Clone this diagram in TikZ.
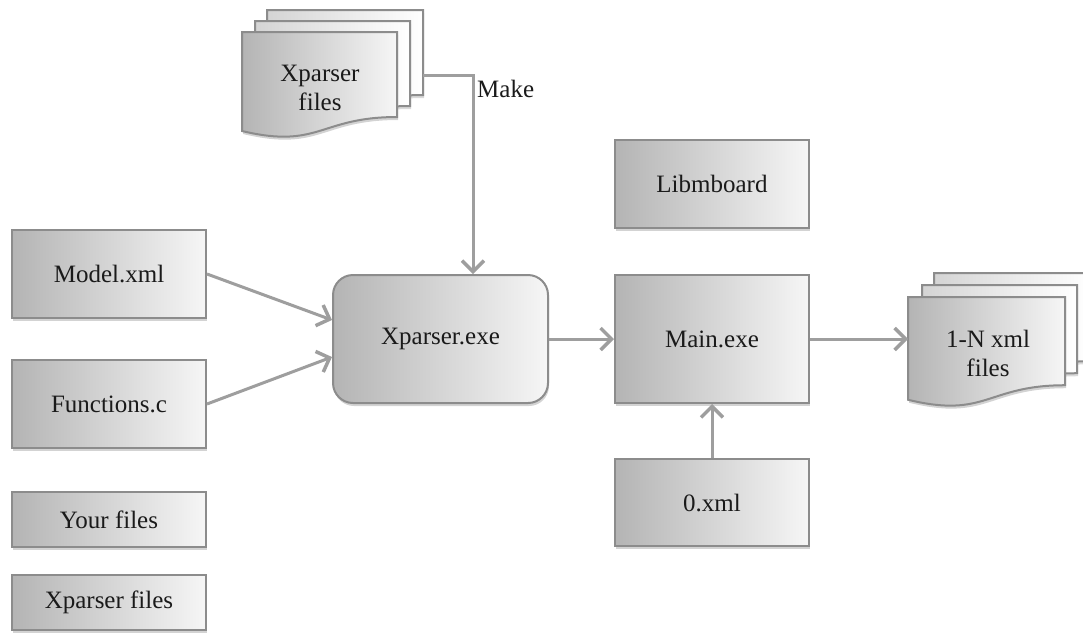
\documentclass[tikz,border=0pt]{standalone}
\usepackage{fontspec}
\setmainfont{Liberation Serif}
\usetikzlibrary{arrows.meta,shadows,calc}
\definecolor{edgegray}{HTML}{8C8C8C}
\definecolor{linegray}{HTML}{9E9E9E}
\definecolor{shadeL}{HTML}{B4B4B4}
\definecolor{shadeR}{HTML}{F6F6F6}
\definecolor{backL}{HTML}{D4D4D4}
\definecolor{txt}{HTML}{1A1A1A}
\tikzset{
  box/.style={draw=edgegray, line width=2pt, left color=shadeL, right color=shadeR,
    drop shadow={shadow xshift=1pt, shadow yshift=-3pt, opacity=0.35},
    font=\fontsize{25}{29}\selectfont, text=txt, inner sep=0pt},
  frontdoc/.style={draw=edgegray, line width=2pt, left color=shadeL, right color=shadeR,
    drop shadow={shadow xshift=1pt, shadow yshift=-3pt, opacity=0.35}},
  backdoc/.style={draw=edgegray, line width=2pt, left color=backL, right color=white,
    drop shadow={shadow xshift=1pt, shadow yshift=-3pt, opacity=0.3}},
  conn/.style={draw=linegray, line width=3pt,
    -{Straight Barb[length=11pt,width=22pt,line width=3.5pt]}},
  lbl/.style={font=\fontsize{25}{29}\selectfont, text=txt, align=center, inner sep=0pt},
}
\newcommand\drawdoc[5]{%
  \path[#1] (#2,#3) -- ({#2+#4},#3) -- ({#2+#4},{#3+0.802*#5})
    .. controls ({#2+0.5*#4},{#3+0.802*#5}) and ({#2+0.5*#4},{#3+1.108*#5}) ..
    (#2,{#3+0.934*#5}) -- cycle;}
\begin{document}
\begin{tikzpicture}[x=1pt,y=-1pt]
\useasboundingbox (0,0) rectangle (1083,633);
% left boxes
\node[box, minimum width=194pt, minimum height=88pt] (model) at (109,274) {Model.xml};
\node[box, minimum width=194pt, minimum height=88pt] (func) at (109,404) {Functions.c};
\node[box, minimum width=194pt, minimum height=55pt] (your) at (109,519.5) {Your files};
\node[box, minimum width=194pt, minimum height=55pt] (xpfiles) at (109,602.5) {Xparser files};
% centre
\node[box, rounded corners=20pt, minimum width=215pt, minimum height=128pt] (xparser) at (440.5,339) {Xparser.exe};
\node[box, minimum width=194pt, minimum height=88pt] (libm) at (712,184) {Libmboard};
\node[box, minimum width=194pt, minimum height=128pt] (main) at (712,339) {Main.exe};
\node[box, minimum width=194pt, minimum height=87pt] (zero) at (712,502.5) {0.xml};
% Xparser files stack
\drawdoc{backdoc}{267}{10}{156}{106}
\drawdoc{backdoc}{255}{21}{155}{106}
\drawdoc{frontdoc}{242}{32}{155}{106}
\node[lbl] (xpstack) at (320,88) {Xparser\\files};
\coordinate (mk) at (423,75);
% 1-N xml stack
\drawdoc{backdoc}{934}{273}{156}{110}
\drawdoc{backdoc}{922}{285}{155}{110}
\drawdoc{frontdoc}{908}{297}{157}{110}
\node[lbl] (nxml) at (988,353) {1-N xml\\files};
\coordinate (nin) at (908,339);
% connectors
\draw[conn] (mk) -| ([xshift=32.5pt]xparser.north);
\node[lbl, anchor=west] (make) at (477,89) {Make};
\draw[conn] (model.east) -- ([yshift=19pt]xparser.west);
\draw[conn] (func.east) -- ([yshift=-18pt]xparser.west);
\draw[conn] (xparser.east) -- (main.west);
\draw[conn] (main.east) -- (nin);
\draw[conn] (zero.north) -- (main.south);
\end{tikzpicture}
\end{document}
